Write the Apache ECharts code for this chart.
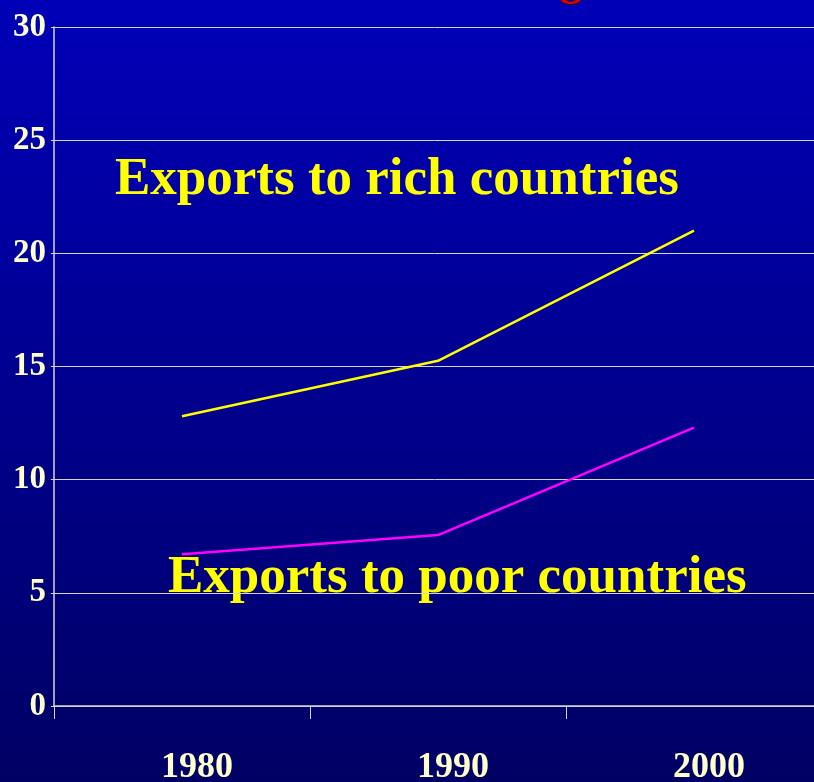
<!DOCTYPE html>
<html><head><meta charset="utf-8">
<script src="https://cdn.jsdelivr.net/npm/echarts@6/dist/echarts.min.js"></script>
<style>html,body{margin:0;padding:0;}#c{width:814px;height:782px;}</style>
</head><body><div id="c"></div>
<script>
const categories = ['1980', '1990', '2000'];
const richValues = [12.8, 15.25, 21.0];
const poorValues = [6.7, 7.55, 12.3];
const yTicks = [0, 5, 10, 15, 20, 25, 30];
const richLabel = 'Exports to rich countries';
const poorLabel = 'Exports to poor countries';

const chart = echarts.init(document.getElementById('c'), null, {renderer: 'canvas'});
const serif = '"Liberation Serif", "Times New Roman", serif';
const labelColor = '#ffffcc';
const gridColor = '#d4d4d4';
chart.setOption({
  animation: false,
  backgroundColor: {
    type: 'linear', x: 0, y: 0, x2: 0, y2: 1,
    colorStops: [{offset: 0, color: '#0000b8'}, {offset: 1, color: '#000064'}]
  },
  grid: {left: 54, top: 27, width: 768, height: 679, containLabel: false, outerBoundsMode: 'none'},
  xAxis: {
    type: 'category',
    data: categories,
    boundaryGap: true,
    axisLine: {show: true, lineStyle: {color: gridColor, width: 1.5}},
    axisTick: {show: true, length: 13, lineStyle: {color: gridColor, width: 1}},
    axisLabel: {
      color: labelColor, fontFamily: serif, fontWeight: 'bold', fontSize: 36,
      margin: 44, padding: [0, 0, 0, 30]
    },
    splitLine: {show: false}
  },
  yAxis: {
    type: 'value',
    min: yTicks[0], max: yTicks[yTicks.length - 1], interval: 5,
    axisLine: {show: true, lineStyle: {color: gridColor, width: 1.5}},
    axisTick: {show: true, length: 3, lineStyle: {color: gridColor}},
    axisLabel: {color: labelColor, fontFamily: serif, fontWeight: 'bold', fontSize: 33, margin: 8},
    splitLine: {show: true, lineStyle: {color: gridColor, width: 1}}
  },
  series: [
    {type: 'line', data: richValues, showSymbol: false, symbol: 'none',
     lineStyle: {color: '#ffff00', width: 2.5}},
    {type: 'line', data: poorValues, showSymbol: false, symbol: 'none',
     lineStyle: {color: '#ff00ff', width: 2.5}}
  ],
  graphic: [
    {type: 'text', x: 115, y: 180, style: {
      text: richLabel, fill: '#ffff00', font: 'bold 53px ' + serif, verticalAlign: 'middle',
      textShadowColor: '#000000', textShadowOffsetX: 2, textShadowOffsetY: 2, textShadowBlur: 0
    }},
    {type: 'text', x: 168, y: 578, style: {
      text: poorLabel, fill: '#ffff00', font: 'bold 53px ' + serif, verticalAlign: 'middle',
      textShadowColor: '#000000', textShadowOffsetX: 2, textShadowOffsetY: 2, textShadowBlur: 0
    }},
    {type: 'text', x: 560, y: 6, style: {
      text: 'g', fill: '#e00000', stroke: '#200000', lineWidth: 1.5,
      font: 'bold 44px ' + serif, verticalAlign: 'bottom'
    }}
  ]
});
</script></body></html>
